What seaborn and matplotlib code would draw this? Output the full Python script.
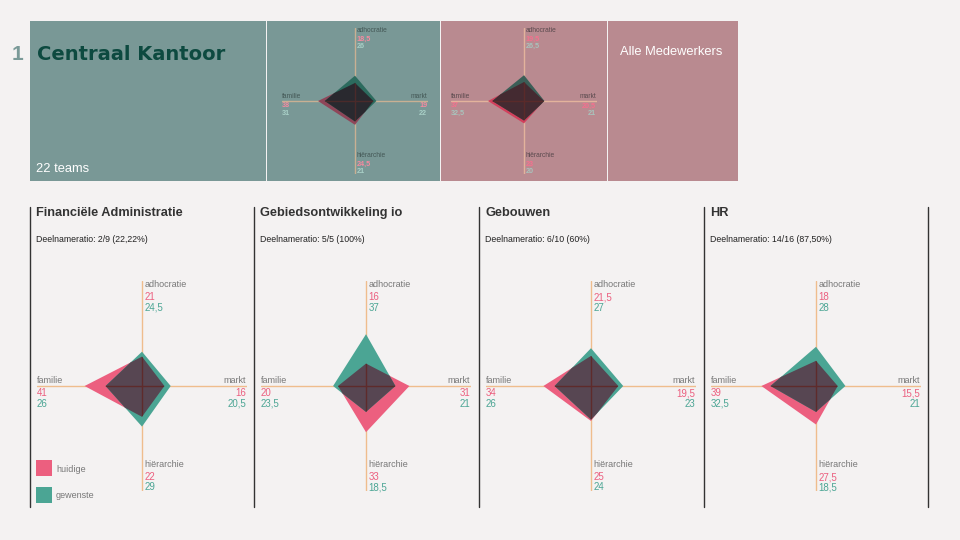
import numpy as np
import matplotlib
matplotlib.use("Agg")
import matplotlib.pyplot as plt
from matplotlib.patches import Rectangle
import seaborn as sns

# --- data -------------------------------------------------------------
dimensions = ["adhocratie", "markt", "hiërarchie", "familie"]

kantoor_huidige = [18.5, 19, 24.5, 38]
kantoor_gewenste = [26, 22, 21, 31]
alle_huidige = [19.5, 20.5, 23, 37]
alle_gewenste = [26.5, 21, 20, 32.5]

teams = ["Financiële Administratie", "Gebiedsontwikkeling io", "Gebouwen", "HR"]
ratios = ["2/9 (22,22%)", "5/5 (100%)", "6/10 (60%)", "14/16 (87,50%)"]
huidige = [
    [21, 16, 22, 41],
    [16, 31, 33, 20],
    [21.5, 19.5, 25, 34],
    [18, 15.5, 27.5, 39],
]
gewenste = [
    [24.5, 20.5, 29, 26],
    [37, 21, 18.5, 23.5],
    [27, 23, 24, 26],
    [28, 21, 18.5, 32.5],
]

# --- style ------------------------------------------------------------
W, H = 960, 540
BG = "#f4f2f2"
LIM = 75
DIRS = np.array([[0, 1], [1, 0], [0, -1], [-1, 0]], dtype=float)

sns.set_theme(style="white", rc={"figure.facecolor": BG, "axes.facecolor": BG})
plt.rcParams["font.family"] = ["Liberation Sans", "DejaVu Sans"]

fig = plt.figure(figsize=(W / 100, H / 100), dpi=100)
bg = fig.add_axes([0, 0, 1, 1])
bg.set_xlim(0, W)
bg.set_ylim(H, 0)
bg.axis("off")


def fmt(v):
    return ("%g" % v).replace(".", ",")


def overlap_points(r1, r2):
    pts = []
    for i in range(4):
        j = (i + 1) % 4
        a1, b1, a2, b2 = r1[i], r1[j], r2[i], r2[j]
        pts.append(min(a1, a2) * DIRS[i])
        if (a1 - a2) * (b1 - b2) < 0:
            m = np.array([[1 / a1, 1 / b1], [1 / a2, 1 / b2]])
            s, t = np.linalg.solve(m, [1, 1])
            pts.append(s * DIRS[i] + t * DIRS[j])
    return np.array(pts)


def draw_radar(cx, cy, half, cur, want, pal, fs, fs_val, val_weight="normal"):
    ax = fig.add_axes([(cx - half) / W, (H - cy - half) / H, 2 * half / W, 2 * half / H])
    ax.set_xlim(-LIM, LIM)
    ax.set_ylim(-LIM, LIM)
    ax.axis("off")
    ax.patch.set_alpha(0)
    ax.axhline(0, color=pal["axis"], lw=1, zorder=1)
    ax.axvline(0, color=pal["axis"], lw=1, zorder=1)
    p_cur = DIRS * np.array(cur)[:, None]
    p_want = DIRS * np.array(want)[:, None]
    ax.fill(p_cur[:, 0], p_cur[:, 1], color=pal["huidige"], lw=0, zorder=2)
    ax.fill(p_want[:, 0], p_want[:, 1], color=pal["gewenste"], lw=0, zorder=3)
    ov = overlap_points(cur, want)
    poly = ax.fill(ov[:, 0], ov[:, 1], color=pal["overlap"], lw=0, zorder=4)[0]
    for ln in (ax.axhline(0, color=pal["inner"], lw=1, zorder=5),
               ax.axvline(0, color=pal["inner"], lw=1, zorder=5)):
        ln.set_clip_path(poly)

    # labels
    dx = 0.025 * half
    spots = [
        (cx + dx, [-0.97, -0.845, -0.745], "left"),
        (cx + 0.99 * half, [-0.056, 0.068, 0.17], "right"),
        (cx + dx, [0.75, 0.87, 0.965], "left"),
        (cx - 1.0 * half, [-0.056, 0.068, 0.17], "left"),
    ]
    for k, (x, ys, ha) in enumerate(spots):
        bg.text(x, cy + ys[0] * half, dimensions[k], fontsize=fs, color=pal["name"],
                ha=ha, va="center")
        bg.text(x, cy + ys[1] * half, fmt(cur[k]), fontsize=fs_val, color=pal["val_h"],
                ha=ha, va="center", fontweight=val_weight)
        bg.text(x, cy + ys[2] * half, fmt(want[k]), fontsize=fs_val, color=pal["val_g"],
                ha=ha, va="center", fontweight=val_weight)


# --- top banner -------------------------------------------------------
TEAL_BG = "#799896"
PINK_BG = "#b98a90"
for x0, x1, c in [(30, 266, TEAL_BG), (267, 440, TEAL_BG), (441, 607, PINK_BG), (608, 738, PINK_BG)]:
    bg.add_patch(Rectangle((x0, 21), x1 - x0, 160, color=c, lw=0))

bg.text(12, 55, "1", fontsize=15, fontweight="bold", color="#7a9a98", va="center")
bg.text(37, 55, "Centraal Kantoor", fontsize=14, fontweight="bold", color="#0d4a40",
        va="center", family=["DejaVu Sans"])
bg.text(36, 169, "22 teams", fontsize=9.3, color="white", va="center")
bg.text(620, 52, "Alle Medewerkers", fontsize=9.3, color="white", va="center")

pal_teal = dict(axis="#c9b093", inner="#4a2a2a", huidige="#8f4659", gewenste="#2c6b5e",
                overlap="#29292f", name="#445856", val_h="#f58aa0", val_g="#a9d0c7")
pal_pink = dict(axis="#e3b39c", inner="#5a2a2a", huidige="#d2405c", gewenste="#3b5e57",
                overlap="#442a31", name="#5a4a4e", val_h="#f5708e", val_g="#a8c4bd")
draw_radar(355, 101, 73, kantoor_huidige, kantoor_gewenste, pal_teal, 4.8, 5.2, "bold")
draw_radar(524, 101, 73, alle_huidige, alle_gewenste, pal_pink, 4.8, 5.2, "bold")

# --- team panels ------------------------------------------------------
pal_team = dict(axis="#efbd8d", inner="#5e2b2b", huidige="#ec5f7f", gewenste="#4ba594",
                overlap="#574652", name="#777777", val_h="#ec5f7f", val_g="#4ba594")
lefts = [30, 254, 479, 704]
for i, left in enumerate(lefts):
    bg.text(left + 6, 213, teams[i], fontsize=9.2, fontweight="bold", color="#333333", va="center")
    bg.text(left + 6, 240, "Deelnameratio: " + ratios[i], fontsize=6.3, color="#222222", va="center")
    draw_radar(left + 112, 386, 105, huidige[i], gewenste[i], pal_team, 6.5, 7)

for x in lefts + [928]:
    bg.plot([x, x], [207, 507], color="#333333", lw=1)

# legend
bg.add_patch(Rectangle((36, 460), 16, 16, color=pal_team["huidige"], lw=0))
bg.add_patch(Rectangle((36, 487), 16, 16, color=pal_team["gewenste"], lw=0))
bg.text(56, 469, "huidige", fontsize=6.5, color="#777777", va="center")
bg.text(56, 496, "gewenste", fontsize=6.5, color="#777777", va="center")

fig.savefig("out.png", dpi=100, facecolor=BG)
